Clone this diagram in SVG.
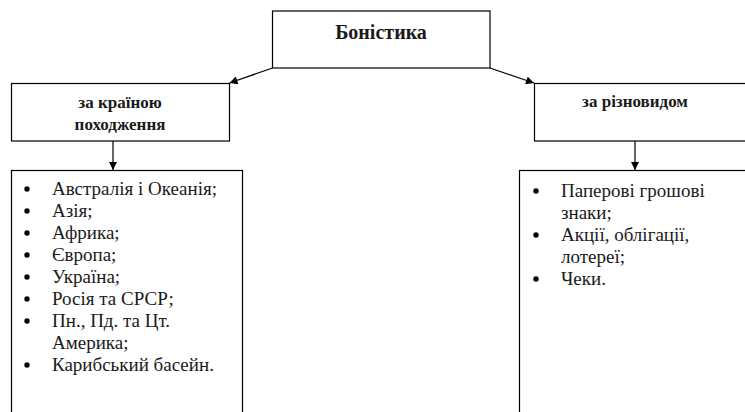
<svg xmlns="http://www.w3.org/2000/svg" width="745" height="412" viewBox="0 0 745 412" font-family="Liberation Serif, serif">
<style>
.box{fill:#fff;stroke:#000;stroke-width:1.2}
.bul{fill:#000}
</style>
<defs>
<marker id="arr" viewBox="0 0 10 10" refX="10" refY="5" markerWidth="10" markerHeight="8" markerUnits="userSpaceOnUse" orient="auto">
<path d="M0,0 L10,5 L0,10 Z" fill="#000"/>
</marker>
</defs>
<rect width="745" height="412" fill="#fff"/>
<g id="connectors" stroke="#000" stroke-width="1.2" fill="none">
<line x1="272.5" y1="68" x2="229.5" y2="83" marker-end="url(#arr)"/>
<line x1="490" y1="68" x2="534" y2="83" marker-end="url(#arr)"/>
<line x1="113" y1="141" x2="113" y2="170" marker-end="url(#arr)"/>
<line x1="635" y1="141" x2="635" y2="170" marker-end="url(#arr)"/>
</g>
<g id="root">
<rect class="box" x="272.5" y="11" width="217.5" height="57"/>
<text x="381" y="38.5" font-family="Liberation Serif, serif" font-size="20" font-weight="bold" text-anchor="middle" fill="#1a1a1a">Боністика</text>
</g>
<g id="by-country">
<rect class="box" x="11.5" y="83.5" width="218" height="57.5"/>
<text x="120" y="108" font-family="Liberation Serif, serif" font-size="17" font-weight="bold" text-anchor="middle" fill="#1a1a1a">за країною</text>
<text x="120" y="130" font-family="Liberation Serif, serif" font-size="17" font-weight="bold" text-anchor="middle" fill="#1a1a1a">походження</text>
</g>
<g id="by-type">
<rect class="box" x="534.5" y="83.5" width="230" height="57.5"/>
<text x="635" y="107" font-family="Liberation Serif, serif" font-size="17" font-weight="bold" text-anchor="middle" fill="#1a1a1a">за різновидом</text>
</g>
<g id="country-list" font-family="Liberation Serif, serif" font-size="19" fill="#1a1a1a">
<rect class="box" x="11.5" y="170.5" width="231" height="260"/>
<circle class="bul" cx="27" cy="189" r="2.7"/>
<text x="52" y="195">Австралія і Океанія;</text>
<circle class="bul" cx="27" cy="211" r="2.7"/>
<text x="52" y="217">Азія;</text>
<circle class="bul" cx="27" cy="233" r="2.7"/>
<text x="52" y="239">Африка;</text>
<circle class="bul" cx="27" cy="255" r="2.7"/>
<text x="52" y="261">Європа;</text>
<circle class="bul" cx="27" cy="277" r="2.7"/>
<text x="52" y="283">Україна;</text>
<circle class="bul" cx="27" cy="299" r="2.7"/>
<text x="52" y="305">Росія та СРСР;</text>
<circle class="bul" cx="27" cy="321" r="2.7"/>
<text x="52" y="327">Пн., Пд. та Цт.</text>
<text x="52" y="349">Америка;</text>
<circle class="bul" cx="27" cy="365" r="2.7"/>
<text x="52" y="371">Карибський басейн.</text>
</g>
<g id="type-list" font-family="Liberation Serif, serif" font-size="19" fill="#1a1a1a">
<rect class="box" x="519.5" y="170.5" width="240" height="260"/>
<circle class="bul" cx="536" cy="191" r="2.7"/>
<text x="561" y="197">Паперові грошові</text>
<text x="561" y="219">знаки;</text>
<circle class="bul" cx="536" cy="235" r="2.7"/>
<text x="561" y="241">Акції, облігації,</text>
<text x="561" y="263">лотереї;</text>
<circle class="bul" cx="536" cy="279" r="2.7"/>
<text x="561" y="285">Чеки.</text>
</g>
</svg>
